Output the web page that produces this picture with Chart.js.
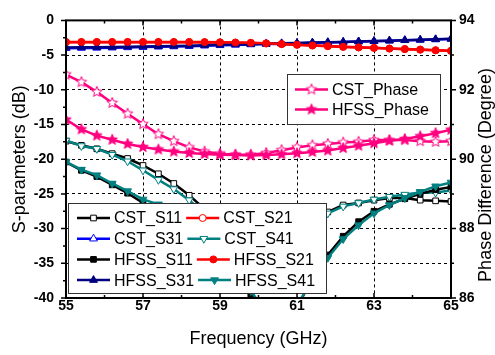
<!DOCTYPE html>
<html>
<head>
<meta charset="utf-8">
<script src="https://cdn.jsdelivr.net/npm/chart.js@4.4.1/dist/chart.umd.min.js"></script>
<style>
  body { margin: 0; background: #fff; }
  canvas { display: block; }
</style>
</head>
<body>
<canvas id="sparam-chart" width="495" height="355"></canvas>
<script>
// Frequency points (GHz)
const freqGHz = [55, 55.4, 55.8, 56.2, 56.6, 57, 57.4, 57.8, 58.2, 58.6, 59, 59.4, 59.8,
  60.2, 60.6, 61, 61.4, 61.8, 62.2, 62.6, 63, 63.4, 63.8, 64.2, 64.6, 65];

// S-parameters (dB), left axis
const cstS11 = [-17.4, -18.0, -18.5, -19.2, -19.9, -20.9, -22.1, -23.5, -25.2, -27.2, -30.0, -33.0, -36.0,
  -38.0, -37.5, -34.5, -31.0, -27.6, -26.6, -26.3, -25.9, -25.6, -25.6, -25.9, -26.0, -26.1];
const cstS21 = [-3.15, -3.15, -3.15, -3.15, -3.15, -3.15, -3.15, -3.15, -3.15, -3.17, -3.2, -3.23, -3.27,
  -3.33, -3.42, -3.52, -3.62, -3.72, -3.82, -3.9, -3.97, -4.06, -4.14, -4.22, -4.31, -4.4];
const cstS31 = [-4.0, -3.98, -3.96, -3.93, -3.89, -3.85, -3.8, -3.76, -3.71, -3.65, -3.59, -3.53, -3.47,
  -3.41, -3.35, -3.29, -3.23, -3.17, -3.11, -3.05, -2.99, -2.93, -2.87, -2.81, -2.74, -2.67];
const cstS41 = [-17.3, -18.1, -18.5, -19.35, -20.3, -21.6, -22.97, -24.3, -25.9, -27.8, -30.2, -33.0, -35.5,
  -37.0, -36.5, -34.0, -30.8, -27.8, -26.8, -26.3, -25.8, -25.4, -25.1, -24.8, -24.8, -24.5];
const hfssS11 = [-20.4, -21.6, -22.5, -23.7, -24.9, -26.3, -27.3, -28.8, -30.3, -32.0, -34.0, -36.5, -39.8,
  -42.5, -43.5, -41.5, -37.0, -33.8, -31.1, -29.0, -27.5, -26.5, -25.7, -25.0, -24.4, -24.0];
const hfssS21 = [-3.1, -3.1, -3.1, -3.1, -3.1, -3.1, -3.1, -3.1, -3.1, -3.12, -3.15, -3.18, -3.22,
  -3.3, -3.4, -3.5, -3.6, -3.7, -3.8, -3.88, -3.95, -4.05, -4.12, -4.2, -4.3, -4.38];
const hfssS31 = [-3.9, -3.88, -3.86, -3.84, -3.8, -3.76, -3.72, -3.68, -3.64, -3.58, -3.52, -3.47, -3.42,
  -3.37, -3.31, -3.26, -3.2, -3.15, -3.1, -3.04, -2.98, -2.92, -2.86, -2.8, -2.73, -2.66];
const hfssS41 = [-20.4, -21.5, -22.3, -23.5, -24.6, -25.8, -26.5, -27.8, -29.3, -31.0, -33.0, -35.5, -39.0,
  -42.0, -43.0, -41.0, -37.5, -34.2, -31.5, -29.5, -27.8, -26.6, -25.6, -24.7, -23.9, -23.35];

// Phase difference (degree), right axis
const cstPhase = [92.44, 92.22, 91.94, 91.62, 91.31, 91.01, 90.72, 90.52, 90.34, 90.22, 90.16, 90.13, 90.13,
  90.18, 90.26, 90.34, 90.4, 90.44, 90.48, 90.5, 90.55, 90.55, 90.55, 90.52, 90.5, 90.52];
const hfssPhase = [91.14, 90.86, 90.68, 90.56, 90.44, 90.35, 90.28, 90.22, 90.18, 90.15, 90.13, 90.12, 90.11,
  90.12, 90.14, 90.17, 90.21, 90.25, 90.32, 90.39, 90.46, 90.53, 90.58, 90.66, 90.75, 90.85];

// legend layout (labels only)
const sparamLegendRows = [["CST_S11", "CST_S21"], ["CST_S31", "CST_S41"], ["HFSS_S11", "HFSS_S21"], ["HFSS_S31", "HFSS_S41"]];
const phaseLegendRows = [["CST_Phase"], ["HFSS_Phase"]];

const FONT = "'Liberation Sans', Arial, sans-serif";
Chart.defaults.font.family = FONT;
Chart.defaults.color = "#000";

const pink = "#ff0080";

function starImage(fill, stroke, r) {
  const c = document.createElement("canvas");
  const s = Math.ceil(r * 2 + 3);
  c.width = s;
  c.height = s;
  const g = c.getContext("2d");
  g.beginPath();
  for (let i = 0; i < 10; i++) {
    const rad = i % 2 === 0 ? r : r * 0.45;
    const a = -Math.PI / 2 + (i * Math.PI) / 5;
    const px = s / 2 + rad * Math.cos(a);
    const py = s / 2 + rad * Math.sin(a);
    if (i === 0) g.moveTo(px, py);
    else g.lineTo(px, py);
  }
  g.closePath();
  g.fillStyle = fill;
  g.fill();
  g.lineWidth = 1;
  g.strokeStyle = stroke;
  g.stroke();
  return c;
}

const openStar = starImage("#fff", pink, 5.5);
const filledStar = starImage(pink, pink, 5.5);

function toPoints(ys) {
  return freqGHz.map((f, i) => ({ x: f, y: ys[i] }));
}

function series(label, ys, color, style, open, extra) {
  return Object.assign({
    label: label,
    data: toPoints(ys),
    borderColor: color,
    borderWidth: 2.5,
    pointStyle: style,
    pointRadius: 4,
    pointBorderWidth: 1,
    pointBorderColor: color,
    pointBackgroundColor: open ? "#fff" : color,
    yAxisID: "y",
    fill: false,
    tension: 0,
  }, extra || {});
}

const datasets = [
  series("HFSS_S21", hfssS21, "#ff0000", "circle", false, { pointRadius: 3.5 }),
  series("HFSS_S31", hfssS31, "#000080", "triangle", false, { pointRadius: 4.5 }),
  series("CST_S21", cstS21, "#ff0000", "circle", true, { pointRadius: 3.5 }),
  series("CST_S31", cstS31, "#0000ff", "triangle", true, { pointRadius: 4.5 }),
  series("HFSS_S41", hfssS41, "#008080", "triangle", false, { pointRadius: 4.5, pointRotation: 180 }),
  series("HFSS_S11", hfssS11, "#000000", "rect", false),
  series("CST_S41", cstS41, "#008080", "triangle", true, { pointRadius: 4.5, pointRotation: 180 }),
  series("CST_S11", cstS11, "#000000", "rect", true),
  series("HFSS_Phase", hfssPhase, pink, filledStar, false, { yAxisID: "y2" }),
  series("CST_Phase", cstPhase, pink, openStar, true, { yAxisID: "y2" }),
];

function drawMarker(ctx, ds, x, y) {
  const style = ds.pointStyle;
  if (style instanceof HTMLCanvasElement) {
    ctx.drawImage(style, x - style.width / 2, y - style.height / 2);
    return;
  }
  const r = ds.pointRadius;
  ctx.fillStyle = ds.pointBackgroundColor;
  ctx.strokeStyle = ds.pointBorderColor;
  ctx.lineWidth = ds.pointBorderWidth;
  ctx.beginPath();
  if (style === "rect") {
    const h = r * Math.SQRT1_2;
    ctx.rect(x - h, y - h, 2 * h, 2 * h);
  } else if (style === "circle") {
    ctx.arc(x, y, r, 0, Math.PI * 2);
  } else if (style === "triangle") {
    let rad = ((ds.pointRotation || 0) * Math.PI) / 180;
    for (let k = 0; k < 3; k++) {
      const px = x + Math.sin(rad) * r;
      const py = y - Math.cos(rad) * r;
      if (k === 0) ctx.moveTo(px, py);
      else ctx.lineTo(px, py);
      rad += (2 * Math.PI) / 3;
    }
    ctx.closePath();
  }
  ctx.fill();
  ctx.stroke();
}

function drawLegend(chart, box, rows) {
  const ctx = chart.ctx;
  const byLabel = {};
  chart.data.datasets.forEach((d) => (byLabel[d.label] = d));
  ctx.fillStyle = "#fff";
  ctx.fillRect(box.x, box.y, box.w, box.h);
  ctx.strokeStyle = "#333";
  ctx.lineWidth = 1;
  ctx.strokeRect(box.x + 0.5, box.y + 0.5, box.w, box.h);
  ctx.font = "16px " + FONT;
  ctx.textBaseline = "middle";
  ctx.textAlign = "left";
  rows.forEach((row, ri) => {
    const y = box.rowY + ri * box.rowGap;
    let x = box.startX;
    row.forEach((label) => {
      const ds = byLabel[label];
      ctx.strokeStyle = ds.borderColor;
      ctx.lineWidth = 2.5;
      ctx.beginPath();
      ctx.moveTo(x, y);
      ctx.lineTo(x + 33, y);
      ctx.stroke();
      drawMarker(ctx, ds, x + 16.5, y);
      ctx.fillStyle = "#000";
      ctx.fillText(label, x + 37, y + 1);
      x += 37 + ctx.measureText(label).width + 4;
    });
  });
}

const framePlugin = {
  id: "frame",
  afterDatasetsDraw(chart) {
    const { ctx, chartArea: a, scales } = chart;
    ctx.save();
    drawLegend(chart, { x: 68, y: 203, w: 258, h: 90, startX: 77, rowY: 218, rowGap: 20.7 }, sparamLegendRows);
    drawLegend(chart, { x: 287, y: 74, w: 153, h: 50, startX: 295, rowY: 89.5, rowGap: 20 }, phaseLegendRows);

    ctx.strokeStyle = "#000";
    ctx.lineWidth = 2;
    ctx.strokeRect(a.left, a.top, a.right - a.left, a.bottom - a.top);

    ctx.lineWidth = 1.5;
    ctx.beginPath();
    for (let f = 55; f <= 65; f += 1) {
      const px = scales.x.getPixelForValue(f);
      const len = f % 2 === 1 ? 5 : 3;
      ctx.moveTo(px, a.bottom);
      ctx.lineTo(px, a.bottom - len);
      ctx.moveTo(px, a.top);
      ctx.lineTo(px, a.top + len);
    }
    for (let v = -40; v <= 0; v += 2.5) {
      const py = scales.y.getPixelForValue(v);
      const len = v % 5 === 0 ? 5 : 3;
      ctx.moveTo(a.left, py);
      ctx.lineTo(a.left - len, py);
    }
    for (let p = 86; p <= 94; p += 1) {
      const py = scales.y2.getPixelForValue(p);
      const len = p % 2 === 0 ? 5 : 3;
      ctx.moveTo(a.right, py);
      ctx.lineTo(a.right + len, py);
    }
    ctx.stroke();
    ctx.restore();
  },
  afterDraw(chart) {
    const ctx = chart.ctx;
    ctx.save();
    ctx.translate(486, 175);
    ctx.rotate(-Math.PI / 2);
    ctx.font = "18px " + FONT;
    ctx.fillStyle = "#000";
    ctx.textAlign = "center";
    ctx.textBaseline = "middle";
    ctx.fillText("Phase Difference (Degree)", 0, 0);
    ctx.restore();
  },
};

const tickFont = { size: 14, weight: "bold" };

const chartOptions = {
  responsive: false,
  animation: false,
  layout: { padding: { top: 15, left: 0, right: 0, bottom: 0 } },
  plugins: {
    legend: { display: false },
    tooltip: { enabled: false },
  },
  scales: {
    x: {
      type: "linear",
      min: 55,
      max: 65,
      afterFit: (s) => { s.height = 57; },
      ticks: {
        stepSize: 1,
        font: tickFont,
        padding: 0,
        maxRotation: 0,
        autoSkip: false,
        callback: (v) => (v % 2 === 1 ? v : ""),
      },
      grid: {
        drawTicks: false,
        color: (c) => (c.tick && c.tick.value % 2 === 1 && c.tick.value > 55 && c.tick.value < 65 ? "#000" : "rgba(0,0,0,0)"),
        lineWidth: 1,
      },
      border: { display: false, dash: [3, 3] },
      title: { display: true, text: "Frequency (GHz)", font: { size: 18 }, padding: { bottom: 5, top: 0 } },
    },
    y: {
      position: "left",
      min: -40,
      max: 0,
      afterFit: (s) => { s.width = 66; },
      ticks: {
        stepSize: 2.5,
        font: tickFont,
        padding: 12,
        autoSkip: false,
        callback: (v) => (v % 5 === 0 ? v : ""),
      },
      grid: {
        drawTicks: false,
        color: (c) => (c.tick && c.tick.value % 5 === 0 && c.tick.value > -40 && c.tick.value < 0 ? "#000" : "rgba(0,0,0,0)"),
        lineWidth: 1,
      },
      border: { display: false, dash: [3, 3] },
      title: { display: true, text: "S-parameters (dB)", font: { size: 18 }, padding: { top: 9, bottom: 0 } },
    },
    y2: {
      position: "right",
      min: 86,
      max: 94,
      afterFit: (s) => { s.width = 44; },
      ticks: {
        stepSize: 1,
        font: tickFont,
        padding: 8,
        autoSkip: false,
        callback: (v) => (v % 2 === 0 ? v : ""),
      },
      grid: { display: false, drawTicks: false },
      border: { display: false },
    },
  },
};

const sparamChart = new Chart(document.getElementById("sparam-chart"), {
  type: "line",
  data: { datasets: datasets },
  options: chartOptions,
  plugins: [framePlugin],
});
</script>
</body>
</html>
